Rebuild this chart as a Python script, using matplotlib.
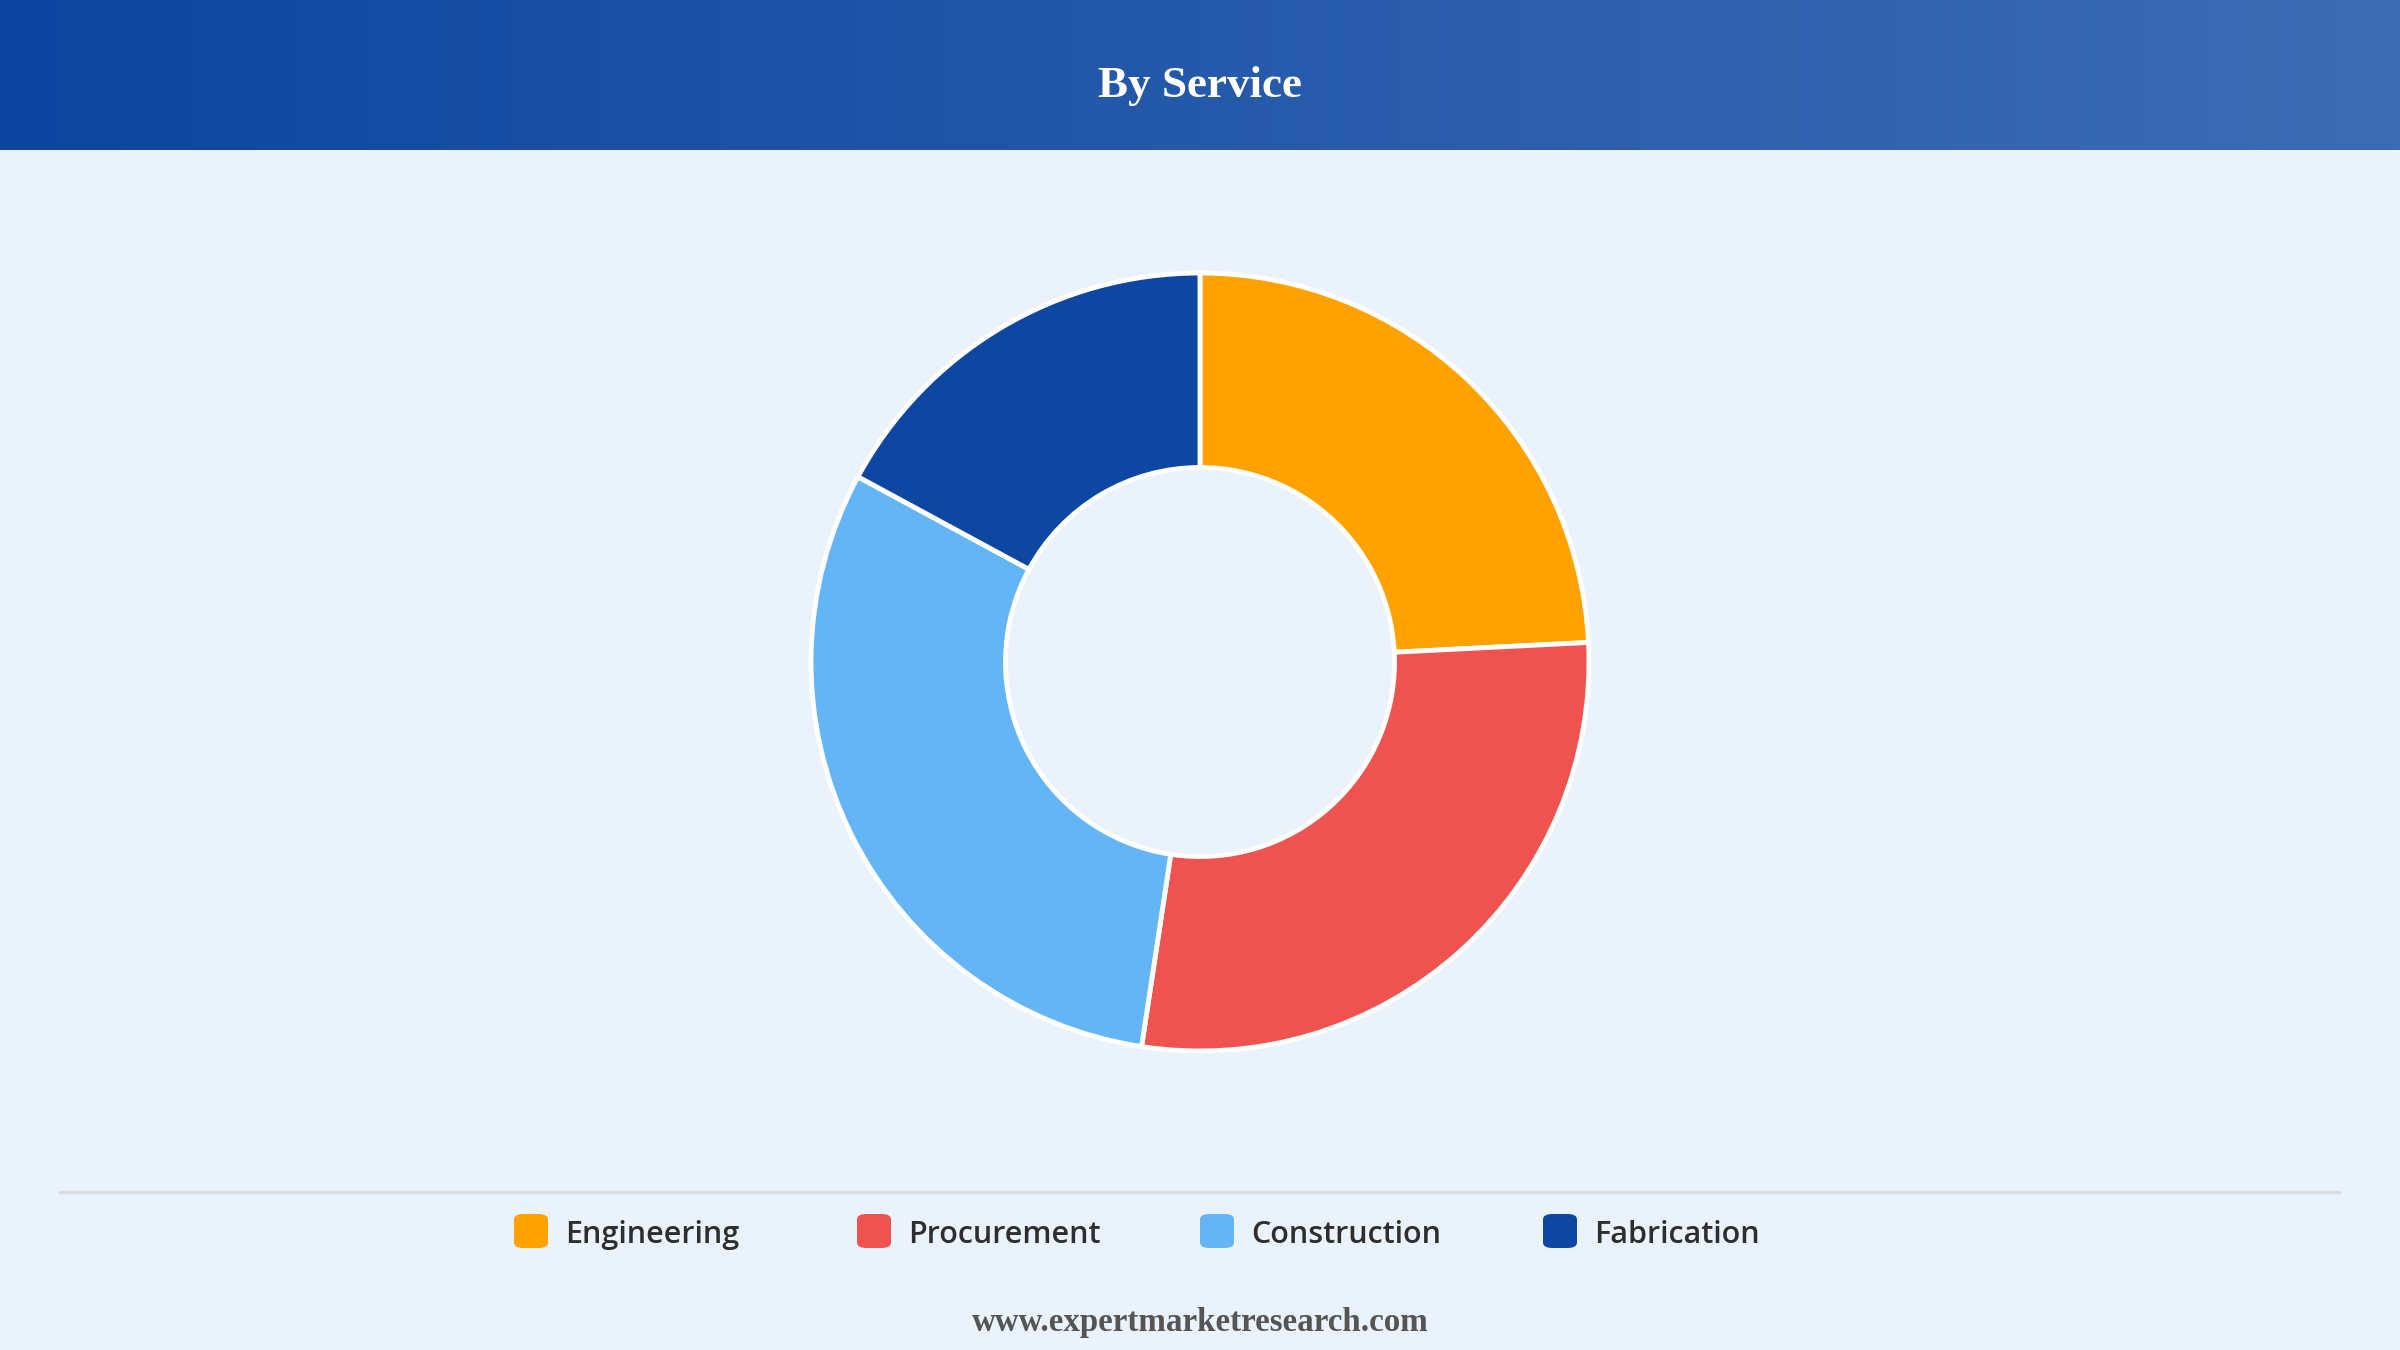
import numpy as np
import matplotlib.pyplot as plt
from matplotlib.patches import FancyBboxPatch
from matplotlib.colors import LinearSegmentedColormap

# data
services = ["Engineering", "Procurement", "Construction", "Fabrication"]
shares = [24.2, 28.2, 30.5, 17.1]
colors = ["#FFA200", "#EF5350", "#64B5F6", "#0D47A1"]

title = "By Service"
source = "www.expertmarketresearch.com"

W, H = 2400, 1350
fig = plt.figure(figsize=(W / 100, H / 100), dpi=100)
fig.patch.set_facecolor("#EAF2FB")

# header band with horizontal gradient
hdr = fig.add_axes([0, 1 - 150 / H, 1, 150 / H])
grad = np.linspace(0, 1, 256).reshape(1, -1)
cmap = LinearSegmentedColormap.from_list("hdr", ["#0D46A0", "#3D6CB4"])
hdr.imshow(grad, aspect="auto", cmap=cmap, extent=[0, 1, 0, 1])
hdr.set_axis_off()
fig.text(0.5, 1 - 86 / H, title, ha="center", va="center", color="white",
         fontsize=32.5, fontweight="bold", family="Liberation Serif")

# donut
cx, cy, r = 1200, 662, 389
ax = fig.add_axes([(cx - r) / W, (H - cy - r) / H, 2 * r / W, 2 * r / H])
ax.pie(shares, colors=colors, startangle=90, counterclock=False, radius=1,
       wedgeprops=dict(width=0.5, edgecolor="white", linewidth=3.5))
ax.set_xlim(-1.0, 1.0)
ax.set_ylim(-1.0, 1.0)
ax.set_aspect("equal")
ax.set_axis_off()

# separator line
fig.add_artist(plt.Line2D([60 / W, 2339 / W], [1 - 1192 / H] * 2,
                          color="#DADDE2", linewidth=2.5))

# legend, fixed spacing per item
ly = 1 - 1231 / H
sq = 34
for i, (name, c) in enumerate(zip(services, colors)):
    x0 = 514 + i * 343
    fig.patches.append(FancyBboxPatch(
        (x0 / W, ly - sq / 2 / H), sq / W, sq / H,
        boxstyle="round,pad=0,rounding_size=0.004",
        transform=fig.transFigure, facecolor=c, edgecolor="none"))
    fig.text((x0 + sq + 17) / W, ly - 4 / H, name, ha="left", va="center",
             fontsize=22, fontweight="semibold", color="#2E2E2E",
             family="Open Sans")

fig.text(0.5, 1 - 1322 / H, source, ha="center", va="center",
         fontsize=23.8, fontweight="bold", color="#555555", family="Liberation Serif")

plt.savefig("out.png", dpi=100, facecolor=fig.get_facecolor())
plt.close()
